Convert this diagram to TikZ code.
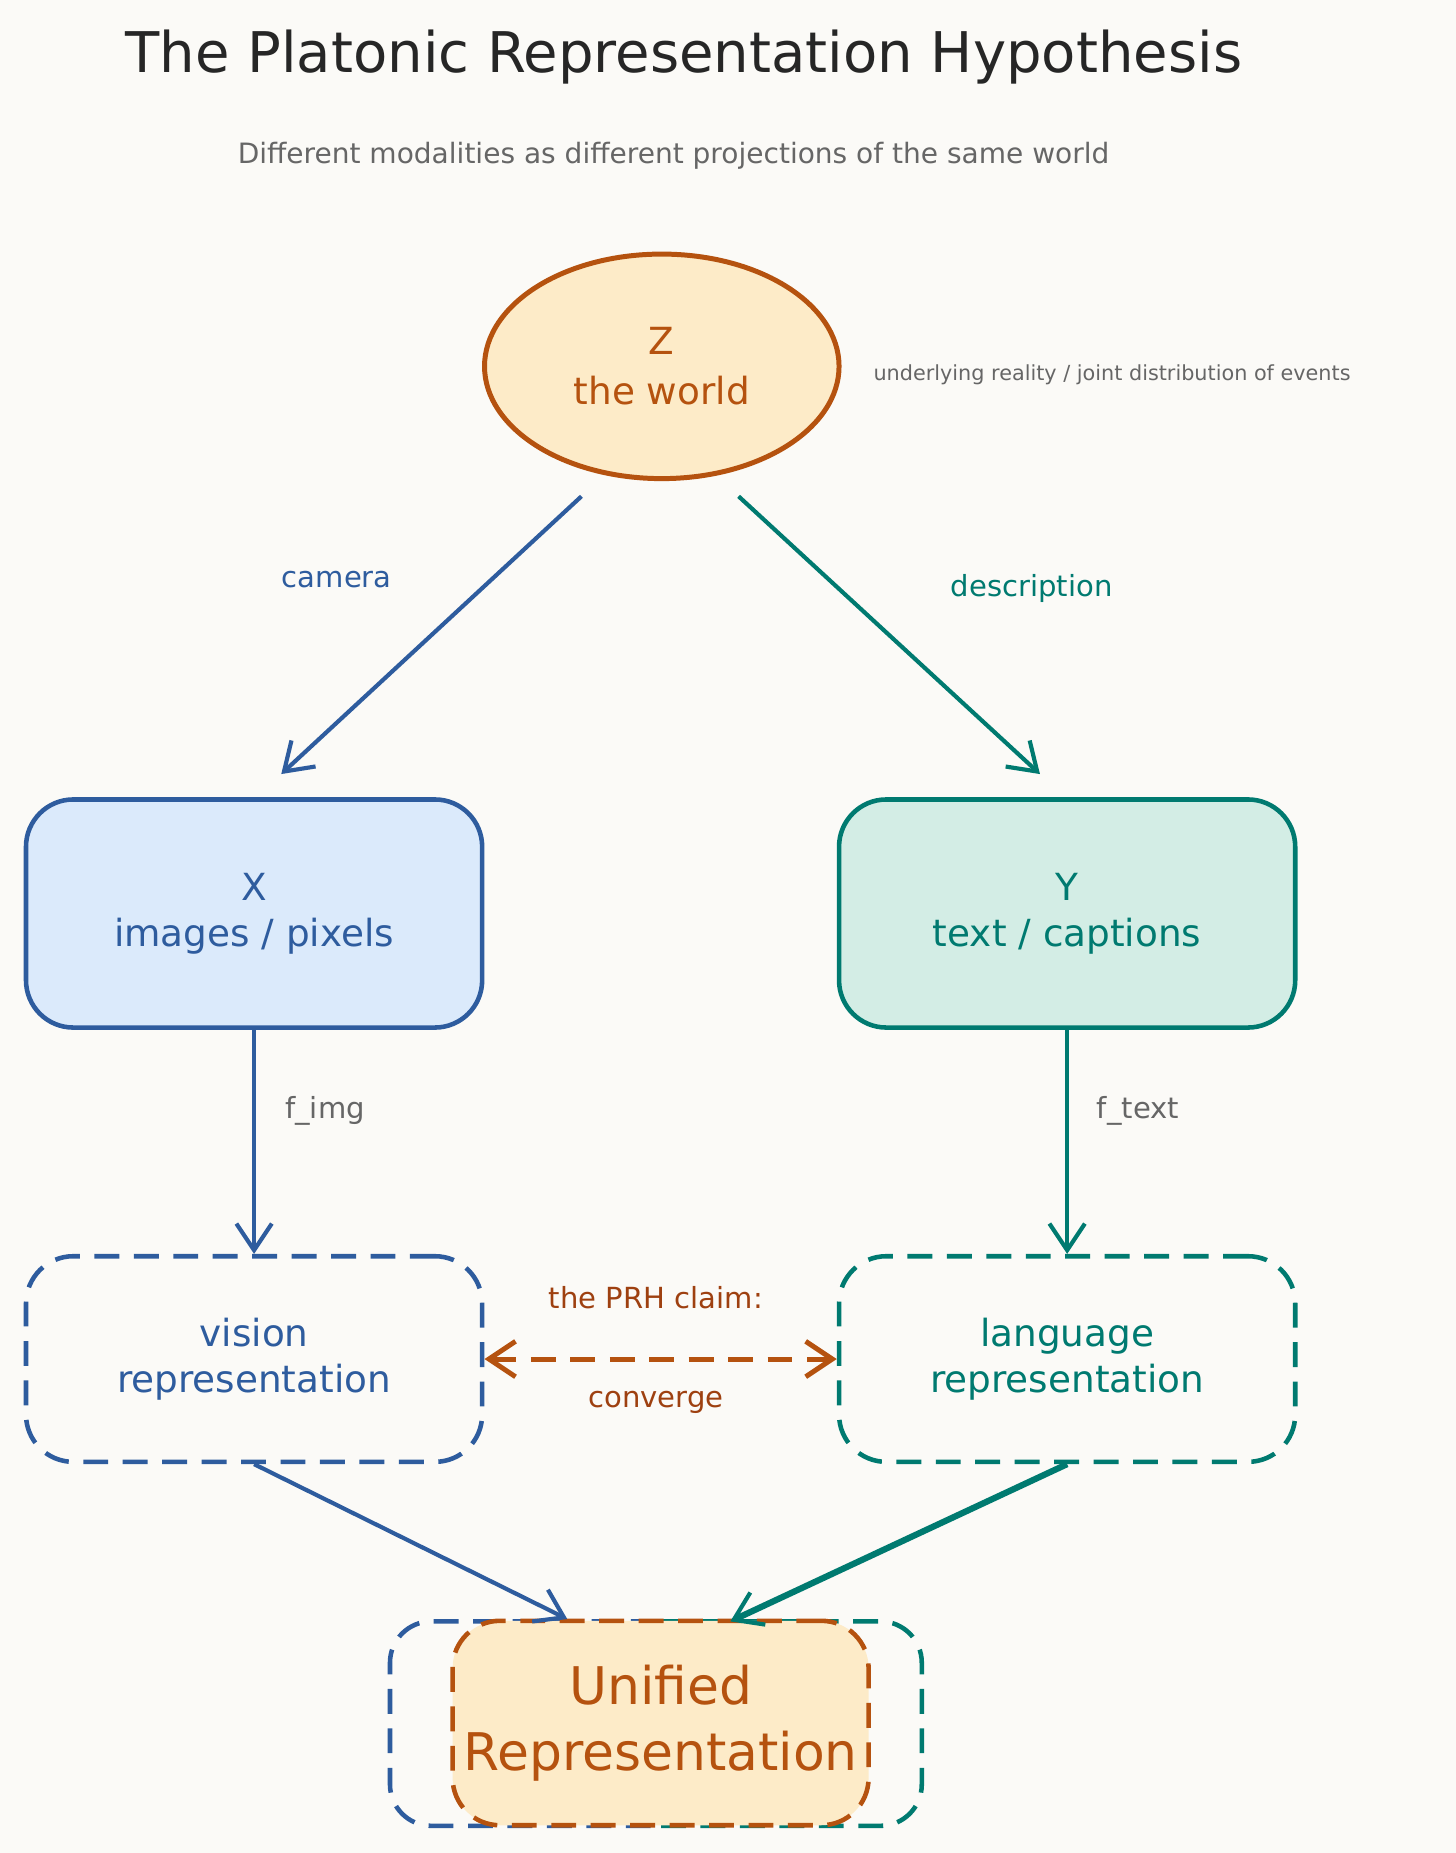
\documentclass[tikz,border=0pt]{standalone}
\usepackage{fontspec}
\setmainfont{DejaVu Sans}
\usetikzlibrary{arrows.meta}
\definecolor{bg}{HTML}{FBFAF7}
\definecolor{blu}{HTML}{2E5C9E}
\definecolor{tea}{HTML}{007A70}
\definecolor{ora}{HTML}{B5520F}
\definecolor{dora}{HTML}{9E4010}
\definecolor{gry}{HTML}{666666}
\definecolor{sand}{HTML}{FDEBC8}
\definecolor{lblu}{HTML}{DBEAFB}
\definecolor{ltea}{HTML}{D3EDE5}
\begin{document}
\begin{tikzpicture}[x=0.02cm,y=-0.02cm,
  box/.style={rounded corners=0.8cm,line width=2.2pt,align=center,font=\fontsize{18}{22}\selectfont},
  arr/.style={line width=2pt,-{Straight Barb[length=0.45cm,width=0.6cm,line width=2pt]}},
  lab/.style={font=\fontsize{14}{17}\selectfont}]
\fill[bg] (0,0) rectangle (1232,1568);
\useasboundingbox (0,0) rectangle (1232,1568);
\node[anchor=west,font=\fontsize{27}{32}\selectfont,text=black!85] (t) at (100,48) {The Platonic Representation Hypothesis};
\node[font=\fontsize{13.5}{16}\selectfont,text=gry] (s) at (570,132) {Different modalities as different projections of the same world};
\draw[ora,fill=sand,line width=2.4pt] (560,310) ellipse (150 and 95);
\node[align=center,text=ora,font=\fontsize{18}{24}\selectfont] (z) at (560,310) {Z\\the world};
\node[anchor=west,text=gry,font=\fontsize{10}{12}\selectfont] (n) at (733,317) {underlying reality / joint distribution of events};
\coordinate (z1) at (492,420); \coordinate (z2) at (625,420);
\node[box,draw=blu,fill=lblu,text=blu,minimum width=386*0.02cm,minimum height=193*0.02cm] (x) at (215,773) {X\\images / pixels};
\node[box,draw=tea,fill=ltea,text=tea,minimum width=386*0.02cm,minimum height=193*0.02cm] (y) at (903,773) {Y\\text / captions};
\draw[arr,blu] (z1) -- (238,655);
\draw[arr,tea] (z2) -- (880,655);
\node[lab,text=blu] (lc) at (285,490) {camera};
\node[lab,text=tea] (ld) at (873,498) {description};
\node[box,dashed,dash pattern=on 12pt off 7pt,draw=blu,text=blu,minimum width=386*0.02cm,minimum height=174*0.02cm] (v) at (215,1150) {vision\\representation};
\node[box,dashed,dash pattern=on 12pt off 7pt,draw=tea,text=tea,minimum width=386*0.02cm,minimum height=174*0.02cm] (l) at (903,1150) {language\\representation};
\draw[arr,blu] (x.south) -- (v.north);
\draw[arr,tea] (y.south) -- (l.north);
\node[lab,text=gry] (fi) at (275,940) {f\_img};
\node[lab,text=gry] (ft) at (963,940) {f\_text};
\draw[line width=2.4pt,ora,dash pattern=on 12pt off 7pt,{Straight Barb[length=0.45cm,width=0.6cm,line width=2.4pt]}-{Straight Barb[length=0.45cm,width=0.6cm,line width=2.4pt]}] (v.east) -- (l.west);
\node[lab,text=dora] (c1) at (555,1098) {the PRH claim:};
\node[lab,text=dora] (c2) at (555,1187) {converge};
\draw[rounded corners=0.7cm,line width=2.2pt,dash pattern=on 12pt off 7pt,blu] (555,1372) -- (330,1372) -- (330,1545) -- (555,1545);
\draw[rounded corners=0.7cm,line width=2.2pt,dash pattern=on 12pt off 7pt,tea] (555,1372) -- (780,1372) -- (780,1545) -- (555,1545);
\node[box,dashed,dash pattern=on 12pt off 7pt,draw=ora,fill=sand,text=ora,minimum width=352*0.02cm,minimum height=173*0.02cm,font=\fontsize{25}{32}\selectfont] (u) at (559,1458) {Unified\\Representation};
\draw[arr,blu] (v.south) -- (480,1370);
\draw[arr,tea,line width=3pt] (l.south) -- (618,1372);
\end{tikzpicture}
\end{document}
